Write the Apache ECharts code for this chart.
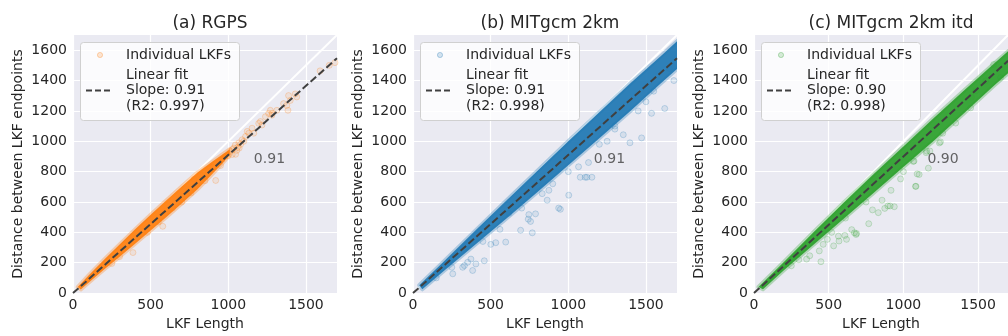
<!DOCTYPE html>
<html><head><meta charset="utf-8">
<script src="https://cdn.jsdelivr.net/npm/echarts@6/dist/echarts.min.js"></script>
<style>html,body{margin:0;padding:0;background:#fff}#c{width:1008px;height:336px}</style>
</head><body><div id="c"></div>
<script>
// ---------- data ----------
const panelTitles = ['(a) RGPS', '(b) MITgcm 2km', '(c) MITgcm 2km itd'];
const slopeLabels = ['0.91', '0.91', '0.90'];
const r2Labels = ['(R2: 0.997)', '(R2: 0.998)', '(R2: 0.998)'];
const xTicks = [0, 500, 1000, 1500];
const yTicks = [0, 200, 400, 600, 800, 1000, 1200, 1400, 1600];
const identityLine = [[0, 0], [1700, 1700]];
const fitA = [[0, 0], [1700, 1547]];
const fitB = [[0, 0], [1700, 1547]];
const fitC = [[0, 0], [1700, 1530]];
const slopeLabelPos = [1265, 882];

// dense core of the point clouds (upper / lower edge of the saturated band)
const bandAUpper = [[30,40],[100,116],[200,220],[300,320],[400,420],[500,516],[600,610],[700,702],[800,792],[900,868],[960,912],[1010,948]];
const bandALower = [[50,24],[100,68],[200,155],[300,240],[400,325],[500,412],[600,500],[700,590],[800,682],[900,787],[960,852],[1010,912]];
const bandBUpper = [[40,52],[200,210],[400,410],[600,608],[800,805],[1000,1000],[1200,1192],[1400,1382],[1600,1565],[1760,1715]];
const bandBLower = [[60,25],[200,148],[400,318],[600,490],[800,665],[1000,842],[1200,1020],[1400,1200],[1600,1385],[1760,1530]];
const bandCUpper = [[30,40],[200,205],[400,403],[600,595],[800,782],[1000,966],[1200,1150],[1400,1330],[1600,1505],[1760,1645]];
const bandCLower = [[60,25],[200,150],[400,320],[600,490],[800,660],[1000,830],[1200,1000],[1400,1180],[1600,1360],[1760,1500]];

// individual LKFs visible outside the dense core
const pointsA = [[1687,1518],[1650,1500],[1591,1464],[1441,1292],[1431,1312],[1388,1301],[1399,1269],[1377,1236],[1384,1204],[1356,1248],[1313,1204],[1282,1184],[1271,1204],[1281,1172],[1260,1183],[1239,1162],[1207,1130],[1196,1118],[1217,1107],[1153,1086],[1132,1053],[1164,1053],[1122,1065],[1111,1032],[1089,1010],[1068,989],[1047,914],[1036,956],[1026,946],[1015,935],[1025,913],[1060,960],[1080,980],[1100,1000],[1045,975],[1055,940],[1070,955],[1000,905],[980,900],[960,880],[940,860],[919,742],[578,440],[386,267],[850,740],[760,660],[700,600],[640,560],[550,470],[300,240],[250,195],[480,400],[900,830],[950,840],[870,800],[820,780],[780,750]];
const pointsB = [[384,149],[256,127],[459,213],[405,192],[373,224],[501,321],[597,336],[693,414],[768,397],[742,487],[789,522],[949,552],[1003,645],[1077,763],[1120,763],[1066,832],[1130,860],[875,677],[864,612],[832,655],[320,170],[352,203],[938,560],[1152,763],[1109,763],[1354,1043],[1397,990],[1472,1022],[1536,1184],[1621,1216],[757,472],[746,517],[618,526],[533,332],[331,181],[1250,1000],[1300,1080],[1450,1200],[1500,1260],[1680,1400],[1200,980],[900,720],[700,560],[560,420],[450,340],[250,170],[150,100],[1000,800],[1300,1100],[1550,1330],[1650,1480]];
const pointsC = [[448,207],[352,224],[373,246],[437,278],[533,311],[491,354],[565,375],[619,354],[608,380],[683,386],[672,397],[768,457],[832,530],[875,558],[896,574],[939,569],[1084,703],[1105,781],[1152,925],[1066,867],[917,677],[981,752],[1081,703],[1092,785],[1167,823],[1248,996],[1177,936],[857,612],[793,548],[911,574],[612,494],[686,393],[654,418],[569,343],[463,321],[1604,1506],[1551,1398],[1487,1333],[1455,1290],[1263,1053],[1241,989],[1156,935],[1071,870],[300,220],[250,180],[1350,1120],[1450,1220],[1650,1420],[1000,800],[750,600],[520,400]];

// ---------- styling / layout ----------
const colors = ['#ff7f0e', '#1f77b4', '#2ca02c'];
const rgba = (hex, a) => {
  const n = parseInt(hex.slice(1), 16);
  return 'rgba(' + (n >> 16) + ',' + ((n >> 8) & 255) + ',' + (n & 255) + ',' + a + ')';
};
const FONT = 'DejaVu Sans';
const TXT = '#262626';
const gridLefts = [73, 413, 754];
const gridTop = 35, gridW = 264, gridH = 263;
const bands = [[bandAUpper, bandALower], [bandBUpper, bandBLower], [bandCUpper, bandCLower]];
const pointSets = [pointsA, pointsB, pointsC];
const fits = [fitA, fitB, fitC];

const grids = [], xAxes = [], yAxes = [], series = [], titles = [], graphics = [];
for (let i = 0; i < 3; i++) {
  grids.push({left: gridLefts[i], top: gridTop, width: gridW, height: gridH, show: true,
    backgroundColor: '#EAEAF2', borderWidth: 0, containLabel: false});
  xAxes.push({type: 'value', gridIndex: i, min: 0, max: 1700, interval: 500,
    name: 'LKF Length', nameLocation: 'middle', nameGap: 21,
    nameTextStyle: {fontFamily: FONT, fontSize: 14, color: TXT},
    axisLine: {show: false}, axisTick: {show: false},
    axisLabel: {fontFamily: FONT, fontSize: 14, color: TXT, margin: 5, showMaxLabel: false,
      formatter: v => (xTicks.indexOf(v) >= 0 ? String(v) : '')},
    splitLine: {show: true, showMaxLine: false, lineStyle: {color: '#ffffff', width: 1.2}}});
  yAxes.push({type: 'value', gridIndex: i, min: 0, max: 1700, interval: 200,
    name: 'Distance between LKF endpoints', nameLocation: 'middle', nameGap: 48,
    nameTextStyle: {fontFamily: FONT, fontSize: 14, color: TXT},
    axisLine: {show: false}, axisTick: {show: false},
    axisLabel: {fontFamily: FONT, fontSize: 14, color: TXT, margin: 6, showMaxLabel: false,
      formatter: v => (yTicks.indexOf(v) >= 0 ? String(v) : '')},
    splitLine: {show: true, showMaxLine: false, lineStyle: {color: '#ffffff', width: 1.2}}});
  titles.push({text: panelTitles[i], left: gridLefts[i] + gridW / 2, top: 10, textAlign: 'center',
    textStyle: {fontFamily: FONT, fontSize: 17, fontWeight: 'normal', color: TXT}});

  // identity line
  series.push({type: 'line', xAxisIndex: i, yAxisIndex: i, data: identityLine, symbol: 'none',
    lineStyle: {color: '#ffffff', width: 2}, silent: true, z: 2});
  // individual points
  series.push({type: 'scatter', xAxisIndex: i, yAxisIndex: i, data: pointSets[i], symbolSize: 6,
    itemStyle: {color: rgba(colors[i], 0.13), borderColor: rgba(colors[i], 0.28), borderWidth: 1}, z: 3});
  // dense core
  const up = bands[i][0], lo = bands[i][1];
  const poly = up.concat(lo.slice().reverse());
  series.push({type: 'custom', xAxisIndex: i, yAxisIndex: i, clip: true, z: 4, data: [poly[0]],
    renderItem: (params, api) => ({
      type: 'polygon',
      shape: {points: poly.map(p => api.coord(p))},
      style: {fill: rgba(colors[i], 0.93), stroke: rgba(colors[i], 0.3), lineWidth: 4, lineJoin: 'round'}
    })});
  // linear fit
  series.push({type: 'line', xAxisIndex: i, yAxisIndex: i, data: fits[i], symbol: 'none',
    lineStyle: {color: '#404040', width: 2, type: [7.4, 3.2]}, z: 6});
  // slope annotation
  series.push({type: 'scatter', xAxisIndex: i, yAxisIndex: i, data: [slopeLabelPos], symbolSize: 0, z: 7,
    label: {show: true, position: 'inside', formatter: slopeLabels[i],
      fontFamily: FONT, fontSize: 14, color: '#404040'}});

  // legend box
  const L = gridLefts[i];
  graphics.push({type: 'rect', left: L + 7, top: 42, z: 100,
    shape: {width: 159, height: 78, r: 3},
    style: {fill: 'rgba(255,255,255,0.8)', stroke: '#d0d0d0', lineWidth: 1}});
  graphics.push({type: 'circle', z: 101, shape: {cx: L + 27, cy: 55, r: 2.6},
    style: {fill: rgba(colors[i], 0.18), stroke: rgba(colors[i], 0.3), lineWidth: 1}});
  graphics.push({type: 'line', z: 101, shape: {x1: L + 13, y1: 90.5, x2: L + 37, y2: 90.5},
    style: {stroke: '#404040', lineWidth: 2, lineDash: [6, 3]}});
  const rows = [['Individual LKFs', 55], ['Linear fit', 75], ['Slope: ' + slopeLabels[i], 90.5], [r2Labels[i], 106]];
  rows.forEach(r => graphics.push({type: 'text', z: 101, x: L + 53, y: r[1],
    style: {text: r[0], fontFamily: FONT, fontSize: 14, fill: TXT, verticalAlign: 'middle', align: 'left'}}));
}

const chart = echarts.init(document.getElementById('c'), null, {renderer: 'canvas'});
chart.setOption({
  animation: false,
  backgroundColor: '#ffffff',
  title: titles,
  grid: grids,
  xAxis: xAxes,
  yAxis: yAxes,
  series: series,
  graphic: graphics
});
</script>
</body></html>
